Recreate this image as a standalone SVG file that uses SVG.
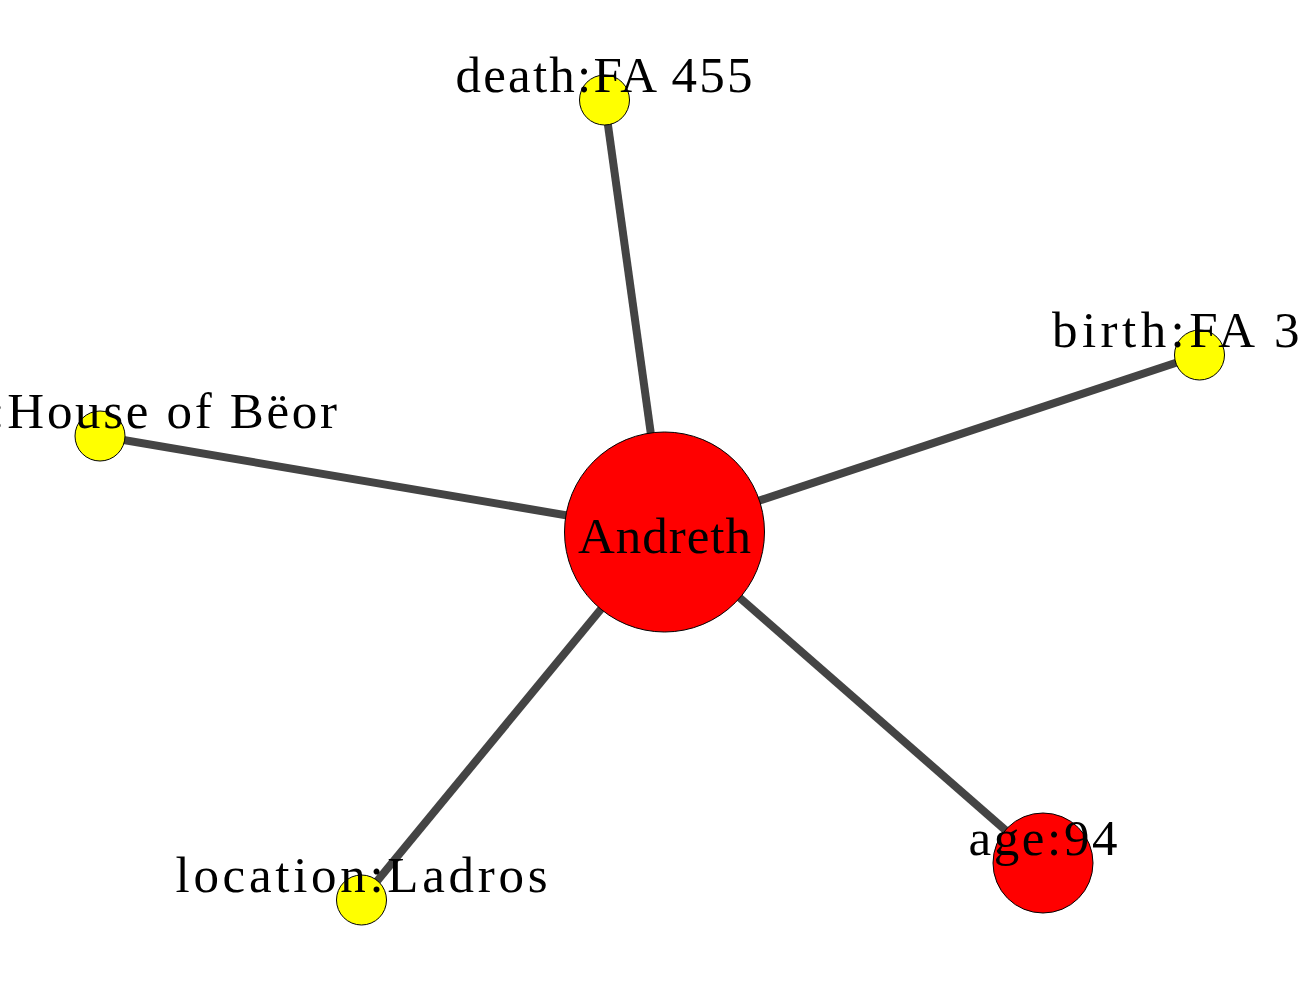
<svg xmlns="http://www.w3.org/2000/svg" width="1300" height="1000" viewBox="0 0 1300 1000">
<style>
.edge{stroke:#444444;stroke-width:8;fill:none}
.node circle{stroke:#000000;stroke-width:1}
.y{fill:#ffff00}
.r{fill:#ff0000}
text{font-family:"Liberation Serif","DejaVu Serif",serif;font-size:51px;fill:#000000}
</style>
<rect width="1300" height="1000" fill="#ffffff"/>
<g id="connectors">
<line class="edge" x1="664.5" y1="532" x2="604.5" y2="100"/>
<line class="edge" x1="664.5" y1="532" x2="1199.5" y2="355"/>
<line class="edge" x1="664.5" y1="532" x2="100" y2="436"/>
<line class="edge" x1="664.5" y1="532" x2="361.5" y2="900"/>
<line class="edge" x1="664.5" y1="532" x2="1043" y2="863"/>
</g>
<g id="node-andreth" class="node">
<circle class="r" cx="664.5" cy="532" r="100"/>
<text x="664.5" y="553" text-anchor="middle" textLength="173" lengthAdjust="spacing">Andreth</text>
</g>
<g id="node-death" class="node">
<circle class="y" cx="604.5" cy="100" r="25"/>
<text x="604" y="92" text-anchor="middle" textLength="297" lengthAdjust="spacing">death:FA 455</text>
</g>
<g id="node-birth" class="node">
<circle class="y" cx="1199.5" cy="355" r="25"/>
<text x="1052" y="347" textLength="247.5" lengthAdjust="spacing">birth:FA 3</text>
</g>
<g id="node-house" class="node">
<circle class="y" cx="100" cy="436" r="25"/>
<text x="-9.5" y="428" textLength="346.5" lengthAdjust="spacing">:House of Bëor</text>
</g>
<g id="node-location" class="node">
<circle class="y" cx="361.5" cy="900" r="25"/>
<text x="361.5" y="892" text-anchor="middle" textLength="372" lengthAdjust="spacing">location:Ladros</text>
</g>
<g id="node-age" class="node">
<circle class="r" cx="1043" cy="863" r="50"/>
<text x="1043" y="855" text-anchor="middle" textLength="149" lengthAdjust="spacing">age:94</text>
</g>
</svg>
